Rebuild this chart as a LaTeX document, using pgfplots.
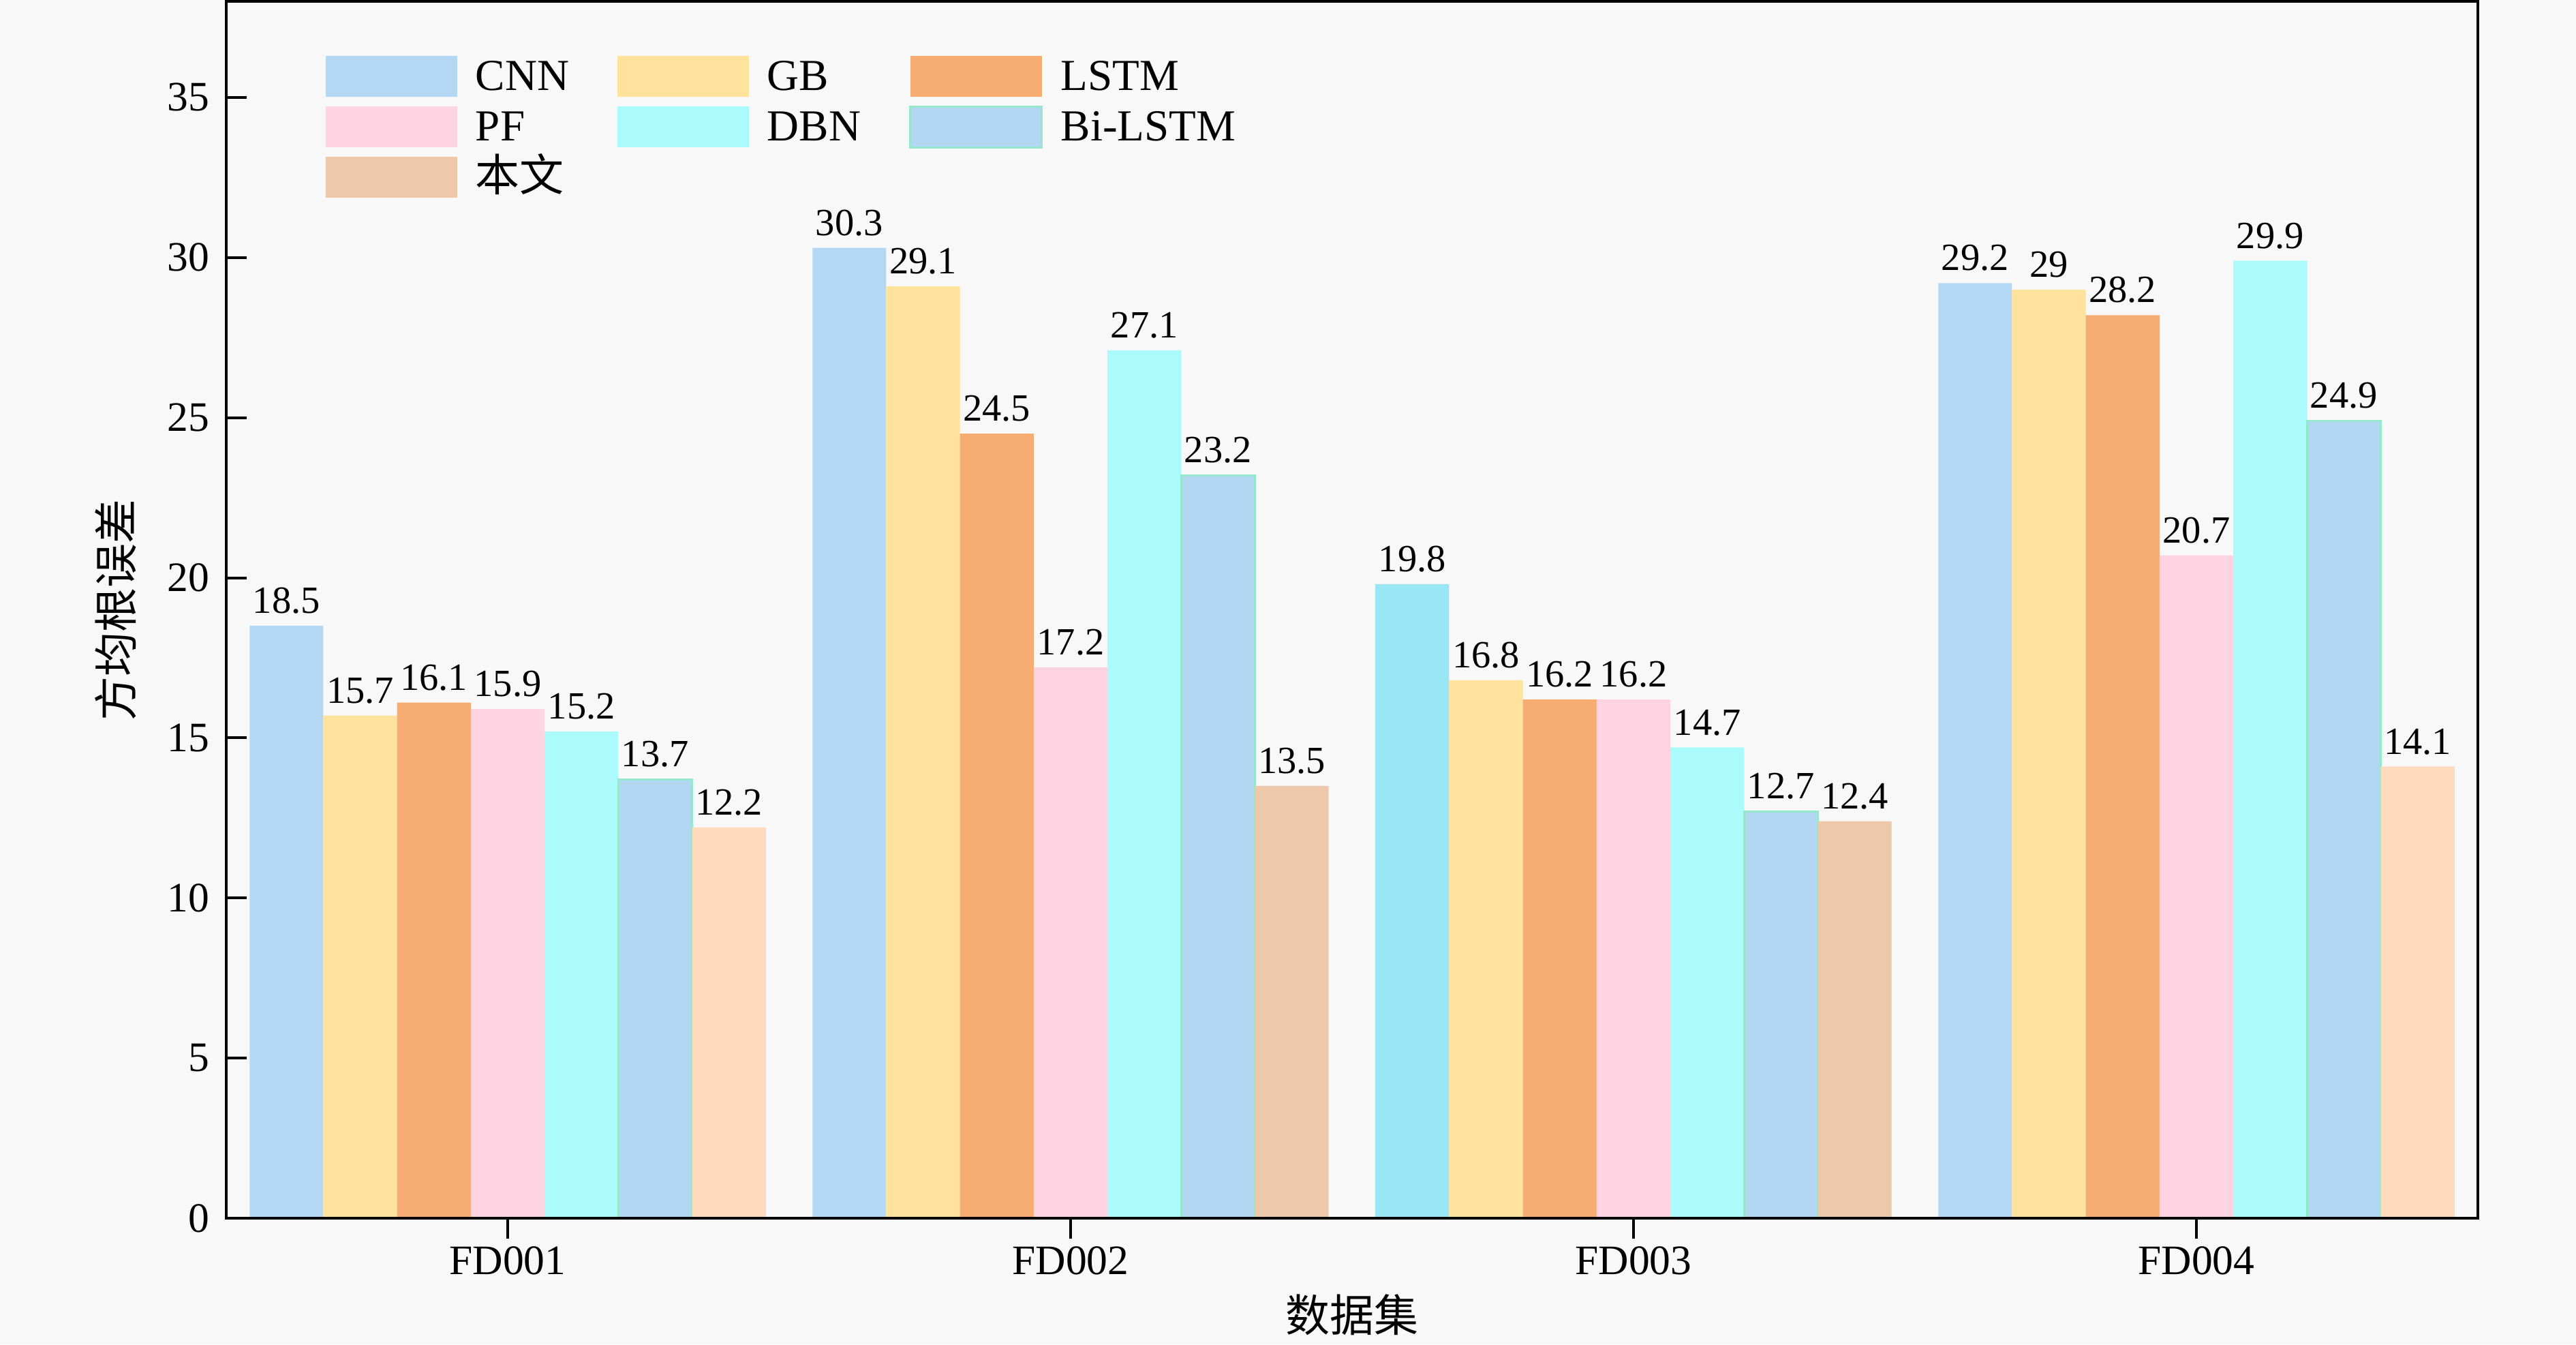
\documentclass[border=0pt]{standalone}
\usepackage{fontspec}
\setmainfont{Liberation Serif}
\newfontfamily\cjk{Noto Sans CJK SC}
\usepackage{pgfplots}
\pgfplotsset{compat=1.18}
\definecolor{bg}{HTML}{F8F8F8}
\definecolor{cCNN}{HTML}{B4D8F3}
\definecolor{cCNNb}{HTML}{99E6F4}
\definecolor{cGB}{HTML}{FFE29B}
\definecolor{cLSTM}{HTML}{F7AC72}
\definecolor{cPF}{HTML}{FFD4E2}
\definecolor{cDBN}{HTML}{ABFAFC}
\definecolor{cBi}{HTML}{B3D7F2}
\definecolor{cBiE}{HTML}{95E8CC}
\definecolor{cOur}{HTML}{EDC8AA}
\definecolor{cOurb}{HTML}{FFDBBE}
\newcommand{\legtxt}[1]{\hspace{5.3pt}\makebox[41.7pt][l]{#1}}
\begin{document}
\begin{tikzpicture}
\path[use as bounding box, fill=bg] (0,0) rectangle (756pt,394.4pt);
\begin{axis}[
  at={(66.4pt,37pt)}, anchor=south west,
  width=660.8pt, height=357pt, scale only axis,
  xmin=-0.5, xmax=3.5, ymin=0, ymax=38,
  xtick={0,1,2,3}, xticklabels={FD001,FD002,FD003,FD004},
  ytick={0,5,...,35},
  axis on top,
  tick align=inside, xtick pos=left, ytick pos=left,
  major tick length=6pt,
  axis line style={line width=0.8pt},
  tick style={line width=0.8pt, black},
  /pgf/number format/assume math mode=true,
  ticklabel style={font=\fontsize{12.3}{14}\selectfont},
  xticklabel style={yshift=1.3pt},
  yticklabel style={xshift=-1.5pt},
  xlabel={\cjk\fontsize{13}{15}\selectfont 数据集},
  ylabel={\cjk\fontsize{13}{15}\selectfont 方均根误差},
  xlabel style={at={(axis description cs:0.5,-0.0795)}, anchor=center},
  ylabel style={at={(axis description cs:-0.049,0.5)}, anchor=center},
  ybar, bar width=0.131,
  nodes near coords={\pgfmathprintnumber\pgfplotspointmeta},
  every node near coord/.append style={font=\fontsize{11.3}{13}\selectfont, text=black},
  legend columns=3,
  legend style={draw=none, fill=none, at={(0.044,0.956)}, anchor=north west,
    column sep=0pt, row sep=2.5pt, inner sep=0pt,
    font=\fontsize{13}{15}\selectfont,
    nodes={inner sep=0pt, text height=9pt, text depth=2pt}},
  legend image code/.code={\fill[#1] (0pt,-5.4pt) rectangle (38.6pt,6.6pt);},
]
\addplot[fill=cCNN, draw=none, bar shift=-0.393] coordinates {(0,18.5) (1,30.3) (2,19.8) (3,29.2)};
\addlegendentry{\legtxt{CNN}}
\addplot[fill=cGB, draw=none, bar shift=-0.262] coordinates {(0,15.7) (1,29.1) (2,16.8) (3,29)};
\addlegendentry{\legtxt{GB}}
\addplot[fill=cLSTM, draw=none, bar shift=-0.131] coordinates {(0,16.1) (1,24.5) (2,16.2) (3,28.2)};
\addlegendentry{\legtxt{LSTM}}
\addplot[fill=cPF, draw=none, bar shift=0] coordinates {(0,15.9) (1,17.2) (2,16.2) (3,20.7)};
\addlegendentry{\legtxt{PF}}
\addplot[fill=cDBN, draw=none, bar shift=0.131] coordinates {(0,15.2) (1,27.1) (2,14.7) (3,29.9)};
\addlegendentry{\legtxt{DBN}}
\addplot[fill=cBi, draw=cBiE, line width=0.6pt, bar shift=0.262] coordinates {(0,13.7) (1,23.2) (2,12.7) (3,24.9)};
\addlegendentry{\legtxt{Bi-LSTM}}
\addplot[fill=cOur, draw=none, bar shift=0.393] coordinates {(0,12.2) (1,13.5) (2,12.4) (3,14.1)};
\addlegendentry{\legtxt{\cjk 本文}}
\addplot[fill=cCNNb, draw=none, bar shift=-0.393, nodes near coords={}, forget plot] coordinates {(2,19.8)};
\addplot[fill=cOurb, draw=none, bar shift=0.393, nodes near coords={}, forget plot] coordinates {(0,12.2) (3,14.1)};
\end{axis}
\end{tikzpicture}
\end{document}
